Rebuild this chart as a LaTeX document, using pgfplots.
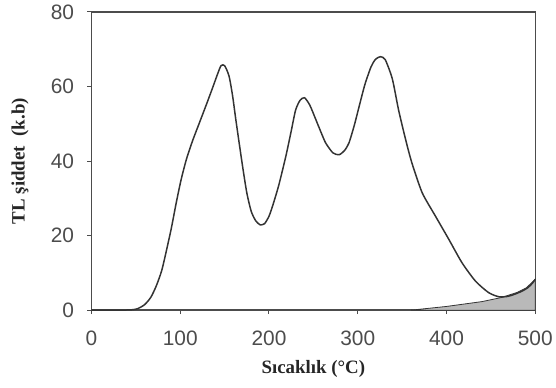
\documentclass[border=0pt]{standalone}
\usepackage{pgfplots}
\pgfplotsset{compat=1.18}
\usepackage{fontspec}
\setmainfont{Liberation Serif}
\newfontfamily\arialf{Liberation Sans}
\begin{document}
\begin{tikzpicture}
\begin{axis}[
  scale only axis,
  width=445bp, height=299bp,
  xmin=0, xmax=500, ymin=0, ymax=80,
  xtick={0,100,200,300,400,500},
  ytick={0,20,40,60,80},
  tick align=outside,
  major tick length=4bp,
  tick style={black!70, line width=1pt},
  axis line style={black!70, line width=1.5pt},
  xtick pos=bottom, ytick pos=left,
  /pgf/number format/assume math mode=true,
  tick label style={font=\arialf\fontsize{21}{21}\selectfont, text=black!70},
  xticklabel style={yshift=-13bp},
  yticklabel style={xshift=-10bp},
  xlabel={Sıcaklık (°C)},
  ylabel={TL şiddet\ \ (k.b)},
  label style={font=\bfseries\fontsize{19}{19}\selectfont, text=black!85},
  xlabel style={at={([yshift=-63bp]axis description cs:0.5,0)}, anchor=base},
  ylabel style={at={([xshift=-67bp]axis description cs:0,0.5)}, anchor=base, rotate=0},
  clip=false,
]
\addplot[fill=gray!55, draw=black!80, line width=0.8pt] coordinates {
(360,0) (400,1.0) (440,2.3) (462,3.4) (480,4.8) (490,6) (500,8.3)
} \closedcycle;
\addplot[black!80, line width=1.5pt, line join=round, no marks, smooth, tension=0.4] coordinates {
(0,0) (30,0) (45,0.1) (52,0.4) (60,1.5) (67,3.5) (73,6.5) (79,10.5) (84,15.5)
(90,22) (95.5,28.8) (101,35) (107,40.5) (114,45.5) (122,50.5) (130,55.5)
(137,60) (142,63.3) (146,65.6) (150,65.6) (155,62.8) (159,57.5) (163,50.5)
(170,39) (175,31.5) (180,26.5) (185,24) (190,22.9) (195,23.2) (200,25.2)
(204,27.9) (211,33.5) (219,41.3) (225,48) (230,53.7) (235,56.3) (240,57)
(246,55) (253,51) (259,47.5) (264,44.8) (272,42.2) (279,41.7) (285,42.8)
(290,44.8) (296,49.5) (301.5,54.6) (308,60.5) (315,65.3) (320,67.3)
(325.5,68) (331,67.2) (339,62) (346,53.7) (354,45.7) (361,39.5)
(372.6,31.5) (387.6,25.2) (402.6,19) (417.5,12.7) (432.6,7.8) (447.5,4.7)
(459,3.6) (469,3.7) (477,4.3) (485,5.1) (492,6.1) (497,7.3) (500,8.3)
};
\end{axis}
\path ([shift={(-91.7bp,-78bp)}]current axis.south west) rectangle ([shift={(19bp,12bp)}]current axis.north east);
\end{tikzpicture}
\end{document}
